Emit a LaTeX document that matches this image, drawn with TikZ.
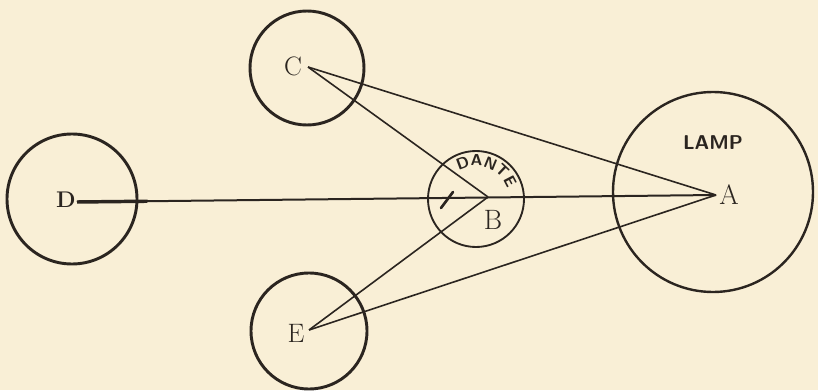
\documentclass[tikz,border=0pt]{standalone}
\usetikzlibrary{decorations.text,calc}
\definecolor{paper}{HTML}{F9EFD6}
\definecolor{ink}{HTML}{2B2520}
\begin{document}
\begin{tikzpicture}[x=0.75pt,y=0.75pt,
  ring/.style={circle,draw=ink,inner sep=0pt},
  ray/.style={draw=ink,line width=1.2pt},
  lbl/.style={text=ink,inner sep=0pt,font=\fontsize{20}{22}\selectfont},
  caps/.style={text=ink,inner sep=0pt,font=\sffamily\bfseries\fontsize{15}{16}\selectfont}]
\fill[paper] (0,0) rectangle (818,390);
\useasboundingbox (0,0) rectangle (818,390);
% circles
\node[ring,line width=2.2pt,minimum size=130*0.75pt] (Dcirc) at (72,191) {};
\node[ring,line width=2.2pt,minimum size=114*0.75pt] (Ccirc) at (307,322) {};
\node[ring,line width=2.2pt,minimum size=116*0.75pt] (Ecirc) at (309,59) {};
\node[ring,line width=1.4pt,minimum size=96*0.75pt] (Bcirc) at (476,191) {};
\node[ring,line width=1.8pt,minimum size=200*0.75pt] (Lcirc) at (713,198) {};
% vertices
\coordinate (Dv) at (77,188);
\coordinate (Cv) at (308,323);
\coordinate (Ev) at (309,60);
\coordinate (Bv) at (488,193);
\coordinate (Av) at (716,195);
% rays
\draw[ray] (Cv) -- (Av);
\draw[ray] (Cv) -- (Bv);
\draw[ray] (Ev) -- (Bv);
\draw[ray] (Ev) -- (Av);
\draw[ray,line width=1.5pt] (Dv) -- (Av);
\draw[draw=ink,line width=2.6pt] (Dv) -- ($(Dv)!0.11!(Av)$);
% mark in Dante circle
\coordinate (m1) at (441,182);
\coordinate (m2) at (453,198);
\draw[draw=ink,line width=2pt,line cap=round] (m1) -- (m2);
% labels
\node[lbl,font=\bfseries\fontsize{17}{18}\selectfont] (D) at (66,190) {D};
\node[lbl] (C) at (293,324) {C};
\node[lbl] (E) at (296,57) {E};
\node[lbl,font=\fontsize{21}{22}\selectfont] (B) at (493,170) {B};
\node[lbl,font=\fontsize{21}{22}\selectfont] (A) at (729,195) {A};
\node[caps] (lamp) at (713,247) {LAMP};
\path[decorate,decoration={text along path,text align=center,
  text={|\sffamily\bfseries\fontsize{12}{12}\selectfont\color{ink}|DANTE}}]
  (476,191) ++(124:33) arc[start angle=124,end angle=16,radius=33];
\end{tikzpicture}
\end{document}
